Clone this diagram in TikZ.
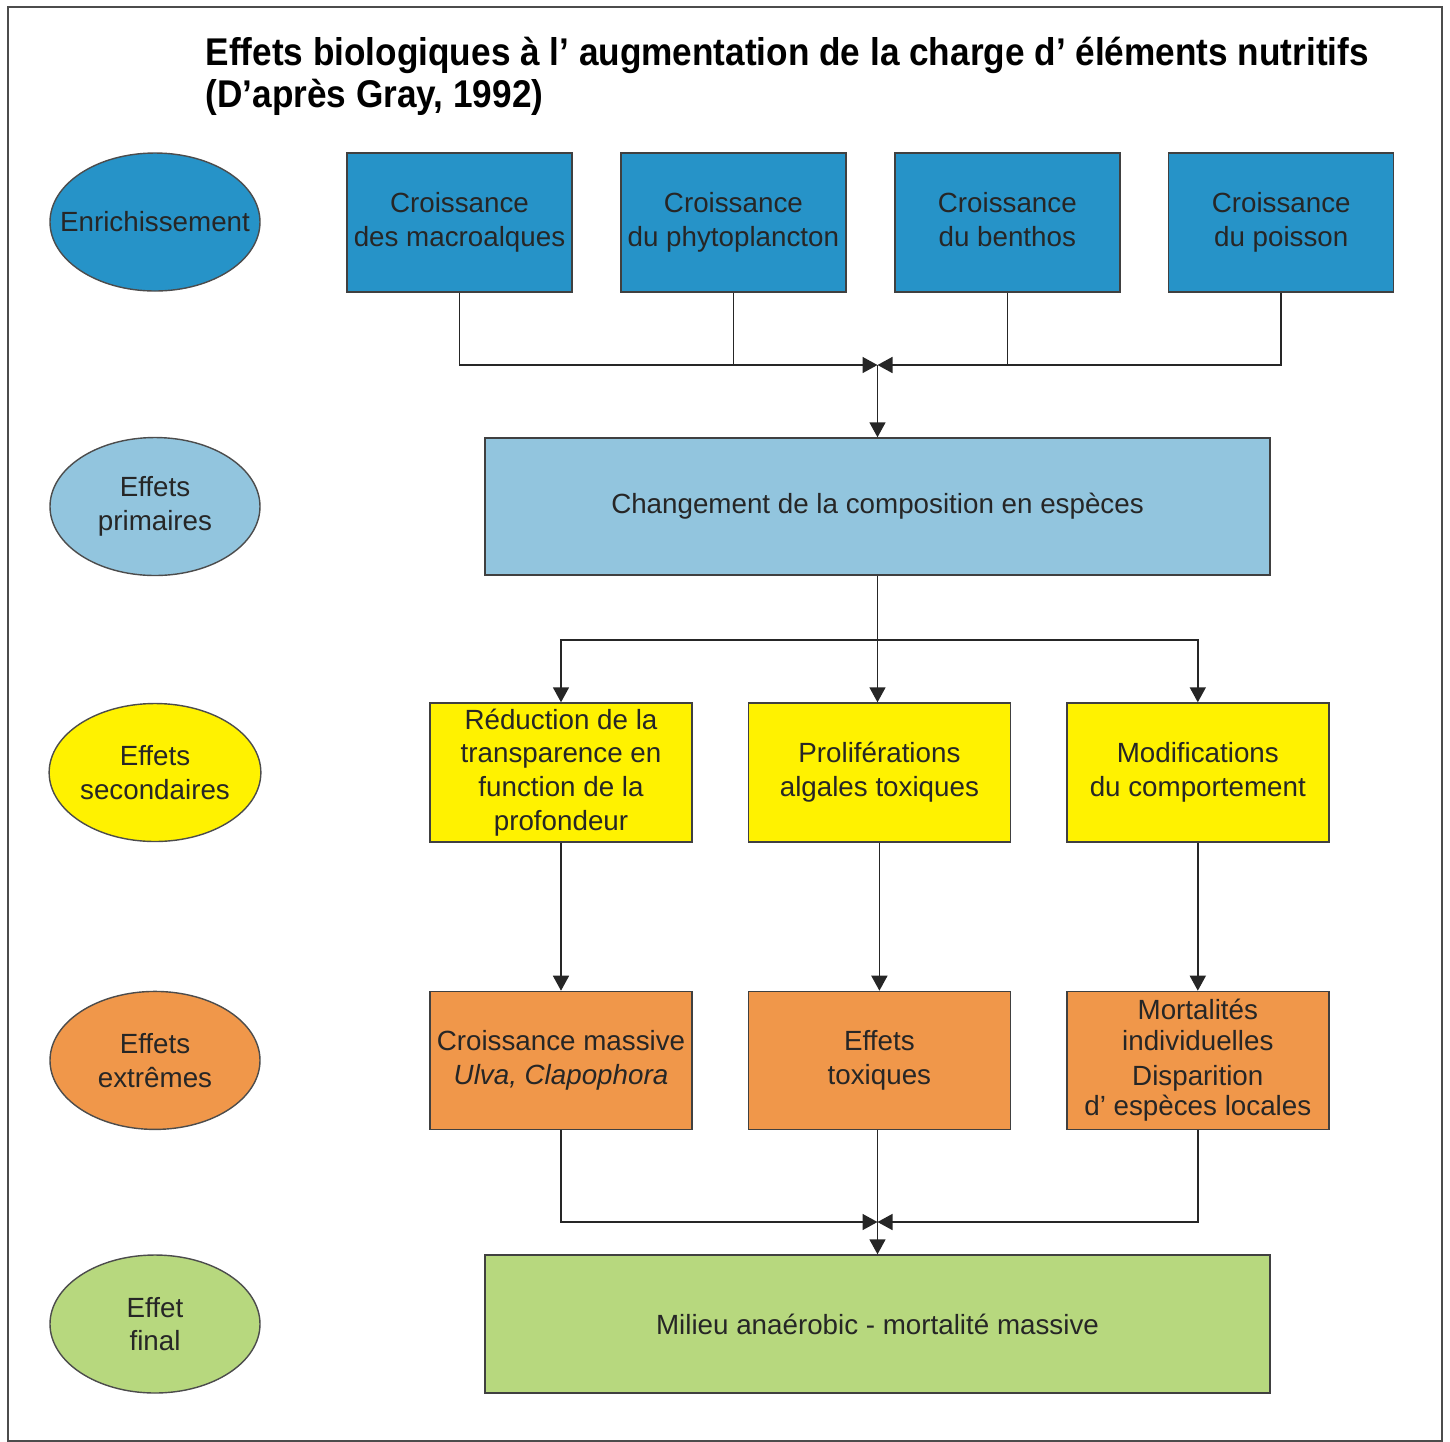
\documentclass[tikz,border=0pt]{standalone}
\usepackage{fontspec}
\setmainfont{Liberation Sans}
\newfontfamily\titlefont{Liberation Sans}[FakeStretch=0.91]
\usepackage{xcolor}
\usetikzlibrary{arrows.meta, positioning, shapes.geometric}

\definecolor{enrich}{RGB}{38,147,200}
\definecolor{primaire}{RGB}{146,197,222}
\definecolor{secondaire}{RGB}{255,242,0}
\definecolor{extreme}{RGB}{240,151,74}
\definecolor{final}{RGB}{183,216,126}

\begin{document}
\begin{tikzpicture}[
  x=0.1mm, y=-0.1mm,
  box/.style={draw=black!75, align=center, inner sep=1pt, text=black!85,
    font=\fontsize{7.9}{9.6}\selectfont},
  level/.style={ellipse, draw=black!70, align=center, inner sep=0pt,
    minimum width=21mm, minimum height=13.8mm, text=black!85,
    font=\fontsize{7.9}{9.6}\selectfont},
  arrow/.style={-{Triangle[width=1.6mm, length=1.5mm]}},
  line/.style={draw=black!85, line width=0.45pt},
  node distance=14.6mm and 4.75mm
]
\useasboundingbox (0,0) rectangle (1450,1441);
\draw[black!70, line width=0.7pt] (8,7) rectangle (1442,1441);

% titre
\node[anchor=north west, inner sep=0pt, align=left,
  font=\titlefont\bfseries\fontsize{11}{12.2}\selectfont] (titre) at (205,36)
  {Effets biologiques à l’ augmentation de la charge d’ éléments nutritifs\\(D’après Gray, 1992)};

% enrichissement
\node[box, fill=enrich, minimum width=22.5mm, minimum height=13.9mm] (macro) at (459.5,222.5) {Croissance\\des macroalques};
\node[box, fill=enrich, minimum width=22.5mm, minimum height=13.9mm, right=of macro] (phyto) {Croissance\\du phytoplancton};
\node[box, fill=enrich, minimum width=22.5mm, minimum height=13.9mm, right=of phyto] (benthos) {Croissance\\du benthos\vphantom{p}};
\node[box, fill=enrich, minimum width=22.5mm, minimum height=13.9mm, right=of benthos] (poisson) {Croissance\\du poisson};

% effets primaires
\node[box, fill=primaire, minimum width=78.5mm, minimum height=13.7mm] (compo) at (877.5,506.5) {Changement de la composition en espèces};

% effets secondaires
\node[box, fill=secondaire, minimum width=26.2mm, minimum height=13.9mm] (transp) at (561,772.5) {Réduction de la\\transparence en\\function de la\\profondeur};
\node[box, fill=secondaire, minimum width=26.2mm, minimum height=13.9mm, right=5.5mm of transp] (toxalg) {Proliférations\\algales toxiques};
\node[box, fill=secondaire, minimum width=26.2mm, minimum height=13.9mm, right=5.5mm of toxalg] (comport) {Modifications\\du comportement};

% effets extremes
\node[box, fill=extreme, minimum width=26.2mm, minimum height=13.8mm, below=14.8mm of transp] (ulva) {Croissance massive\\\textit{Ulva, Clapophora}};
\node[box, fill=extreme, minimum width=26.2mm, minimum height=13.8mm, below=14.8mm of toxalg] (toxiq) {Effets\\toxiques};
\node[box, fill=extreme, minimum width=26.2mm, minimum height=13.8mm, below=14.8mm of comport,
  font=\fontsize{7.9}{8.6}\selectfont] (mort) {Mortalités\\individuelles\\[1.5pt]Disparition\\d' espèces locales};

% effet final
\node[box, fill=final, minimum width=78.5mm, minimum height=13.8mm] (milieu) at (877.5,1324) {Milieu anaérobic - mortalité massive};

% niveaux
\node[level, fill=enrich] (enr) at (155,222) {\makebox[0pt]{Enrichissement}};
\node[level, fill=primaire] (prim) at (enr |- compo) {Effets\\primaires};
\node[level, fill=secondaire] (sec) at (enr |- transp) {Effets\\secondaires};
\node[level, fill=extreme] (extr) at (enr |- ulva) {Effets\\extrêmes};
\node[level, fill=final] (fin) at (enr |- milieu) {Effet\\final};

% connecteurs
\coordinate (j1) at (877.5,365);
\coordinate (j2) at (877.5,640);
\coordinate (j3) at (877.5,1222);
\draw[line, arrow] (macro) |- (j1);
\draw[line, arrow] (poisson) |- (j1);
\draw[line] (phyto) -- (phyto |- j1);
\draw[line] (benthos) -- (benthos |- j1);
\draw[line, arrow] (j1) -- (compo);
\draw[line] (compo) -- (j2);
\draw[line, arrow] (j2) -| (transp);
\draw[line, arrow] (j2) -- (j2 |- toxalg.north);
\draw[line, arrow] (j2) -| (comport);
\draw[line, arrow] (transp) -- (ulva);
\draw[line, arrow] (toxalg) -- (toxiq);
\draw[line, arrow] (comport) -- (mort);
\draw[line, arrow] (ulva) |- (j3);
\draw[line, arrow] (mort) |- (j3);
\draw[line, arrow] (toxiq.south -| j3) -- (milieu);
\end{tikzpicture}
\end{document}
